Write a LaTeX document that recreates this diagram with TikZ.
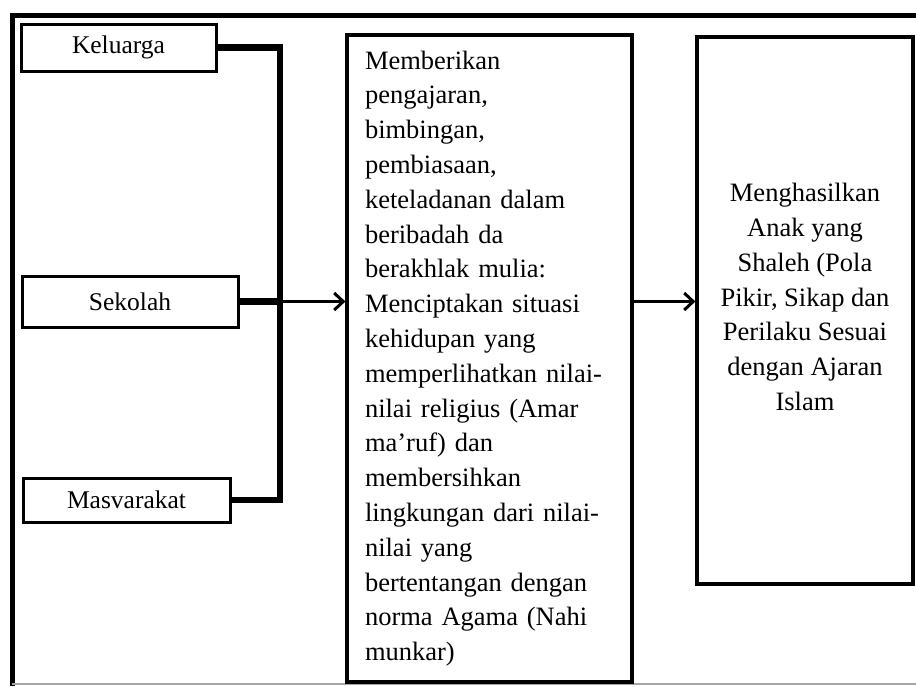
\documentclass[tikz,border=0pt]{standalone}
\usepackage{fontspec}
\setmainfont{Liberation Serif}
\usetikzlibrary{arrows.meta, positioning}

\begin{document}
\begin{tikzpicture}[
    x=1pt, y=-1pt,
    >={Straight Barb[length=9pt, width=17pt]},
    frame/.style={line width=5pt},
    bracket/.style={line width=6.5pt, line join=miter},
    flow/.style={->, line width=3pt},
    source/.style={draw, line width=3pt, inner sep=0pt, font=\fontsize{25.5}{30}\selectfont},
    bigbox/.style={draw, line width=3.2pt, inner sep=0pt},
    body/.style={font=\fontsize{26.5}{34.8}\selectfont}
]
\useasboundingbox (0,0) rectangle (916,686);

% Outer frame
\draw[frame] (12,686) -- (12,15) -- (916,15);
\draw[gray!70, line width=1.2pt] (12,684) -- (916,684);

% Sources
\node[source, minimum width=195pt, minimum height=47pt] (kel) at (118.5,47.5) {Keluarga};
\node[source, minimum width=216pt, minimum height=51pt] (sek) at (130,301.5) {Sekolah};
\node[source, minimum width=207pt, minimum height=44pt] (mas) at (126.5,500) {Masvarakat};

% Process box
\node[bigbox, body, minimum width=285pt, minimum height=647pt,
      text width=249pt, inner xsep=18pt, align=left] (mid) at (489.5,358.5)
    {Memberikan\\
     pengajaran,\\
     bimbingan,\\
     pembiasaan,\\
     keteladanan dalam\\
     beribadah da\\
     berakhlak mulia:\\
     Menciptakan situasi\\
     kehidupan yang\\
     memperlihatkan nilai-\\
     nilai religius (Amar\\
     ma'ruf) dan\\
     membersihkan\\
     lingkungan dari nilai-\\
     nilai yang\\
     bertentangan dengan\\
     norma Agama (Nahi\\
     munkar)};

% Result box
\node[bigbox, minimum width=216pt, minimum height=547pt] (hasil) at (805,310.5) {};
\node[body, align=center] (hasiltext) at (805,297)
    {Menghasilkan\\
     Anak yang\\
     Shaleh (Pola\\
     Pikir, Sikap dan\\
     Perilaku Sesuai\\
     dengan Ajaran\\
     Islam};

% Bracket joining the sources
\coordinate (brk) at (280,0);
\draw[bracket] (kel.east) -| (brk |- mas.east) -- (mas.east);
\draw[bracket] (sek.east) -- (sek.east -| brk);

% Arrows
\draw[flow] (sek.east -| brk) -- (mid.west |- sek.east);
\draw[flow] (mid.east |- sek.east) -- (hasil.west |- sek.east);

\end{tikzpicture}
\end{document}
